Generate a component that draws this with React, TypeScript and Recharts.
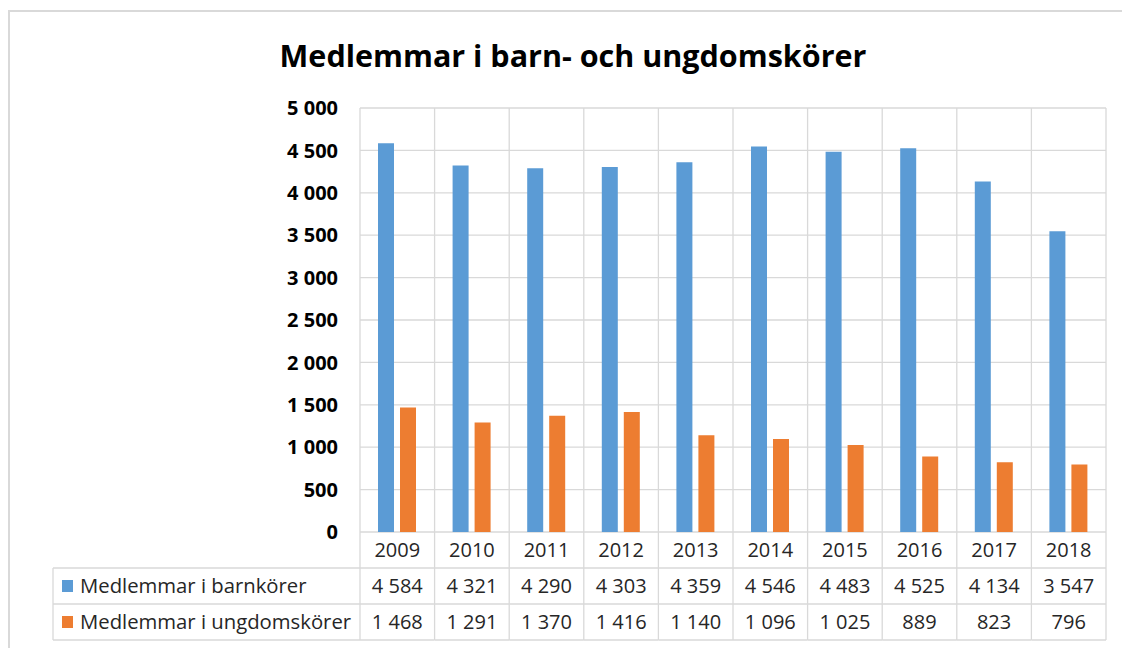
import React from 'react';
import { BarChart, Bar, XAxis, YAxis, CartesianGrid, Customized } from 'recharts';

const years = ['2009', '2010', '2011', '2012', '2013', '2014', '2015', '2016', '2017', '2018'];
const barnkorer = [4584, 4321, 4290, 4303, 4359, 4546, 4483, 4525, 4134, 3547];
const ungdomskorer = [1468, 1291, 1370, 1416, 1140, 1096, 1025, 889, 823, 796];
const seriesNames = ['Medlemmar i barnkörer', 'Medlemmar i ungdomskörer'];
const seriesColors = ['#5b9bd5', '#ed7d31'];
const yTicks = [0, 500, 1000, 1500, 2000, 2500, 3000, 3500, 4000, 4500, 5000];
const title = 'Medlemmar i barn- och ungdomskörer';

const data = years.map((y, i) => ({ year: y, barn: barnkorer[i], ungdom: ungdomskorer[i] }));

const W = 1122;
const H = 648;
const PLOT_LEFT = 360;
const PLOT_RIGHT = 1106;
const PLOT_TOP = 108;
const AXIS_H = 116;
const ROW_H = 36;
const TABLE_LEFT = 53;
const GRID = '#d9d9d9';
const FONT = '"Open Sans", Lato, sans-serif';
const TEXT = '#262626';

const fmt = (v: number) => {
  const s = String(Math.round(v));
  return s.replace(/\B(?=(\d{3})+(?!\d))/g, ' ');
};

const bandWidth = (PLOT_RIGHT - PLOT_LEFT) / years.length;

const TableTick = (props: any) => {
  const { x, y, payload } = props;
  const idx = years.indexOf(payload.value);
  const left = x - bandWidth / 2;
  const right = x + bandWidth / 2;
  const rows = [payload.value, fmt(barnkorer[idx]), fmt(ungdomskorer[idx])];
  return (
    <g>
      <line x1={right} x2={right} y1={PLOT_TOP} y2={y + ROW_H * 3} stroke={GRID} strokeWidth={1.3} />
      {idx === 0 && (
        <line x1={left} x2={left} y1={PLOT_TOP} y2={y + ROW_H * 3} stroke={GRID} strokeWidth={1.3} />
      )}
      {[1, 2, 3].map((r) => (
        <line key={r} x1={left} x2={right} y1={y + ROW_H * r} y2={y + ROW_H * r} stroke={GRID} strokeWidth={1.3} />
      ))}
      {rows.map((t, r) => (
        <text
          key={r}
          x={x}
          y={y + ROW_H * r + ROW_H / 2 + 7}
          textAnchor="middle"
          fontSize={20}
          fontFamily={FONT}
          fill={TEXT}
        >
          {t}
        </text>
      ))}
    </g>
  );
};

const Decor = () => {
  const y0 = H - AXIS_H;
  return (
    <g>
      <rect x={9} y={11} width={W + 10} height={H + 10} fill="none" stroke={GRID} strokeWidth={2} />
      <text x={573} y={67} textAnchor="middle" fontSize={30.5} fontWeight="bold" fontFamily={FONT} fill="#000">
        {title}
      </text>
      <line x1={TABLE_LEFT} x2={TABLE_LEFT} y1={y0 + ROW_H} y2={y0 + ROW_H * 3} stroke={GRID} strokeWidth={1.3} />
      {[1, 2, 3].map((r) => (
        <line key={r} x1={TABLE_LEFT} x2={PLOT_LEFT} y1={y0 + ROW_H * r} y2={y0 + ROW_H * r} stroke={GRID} strokeWidth={1.3} />
      ))}
      {seriesNames.map((n, i) => (
        <g key={n}>
          <rect x={62} y={y0 + ROW_H * (i + 1) + ROW_H / 2 - 6} width={11} height={12} fill={seriesColors[i]} />
          <text
            x={80}
            y={y0 + ROW_H * (i + 1) + ROW_H / 2 + 7}
            fontSize={20.3}
            fontFamily={FONT}
            fill={TEXT}
          >
            {n}
          </text>
        </g>
      ))}
    </g>
  );
};

export default function App() {
  return (
    <div style={{ position: 'absolute', left: 0, top: 0, width: W, height: H, background: '#fff' }}>
      <BarChart
        width={W}
        height={H}
        data={data}
        margin={{ top: PLOT_TOP, right: W - PLOT_RIGHT, bottom: 0, left: 0 }}
        barGap={6}
        barSize={16}
      >
        <CartesianGrid vertical={false} stroke={GRID} strokeWidth={1.3} />
        <YAxis
          width={PLOT_LEFT}
          domain={[0, 5000]}
          ticks={yTicks}
          tickFormatter={fmt}
          axisLine={false}
          tickLine={false}
          tickSize={0}
          tickMargin={22}
          interval={0}
          tick={{ fontSize: 20, fontWeight: 'bold', fill: '#000', fontFamily: FONT }}
        />
        <XAxis
          dataKey="year"
          height={AXIS_H}
          axisLine={false}
          tickLine={false}
          tickSize={0}
          tickMargin={0}
          interval={0}
          tick={<TableTick />}
        />
        <Bar dataKey="barn" name={seriesNames[0]} fill={seriesColors[0]} isAnimationActive={false} />
        <Bar dataKey="ungdom" name={seriesNames[1]} fill={seriesColors[1]} isAnimationActive={false} />
        <Customized component={<Decor />} />
      </BarChart>
    </div>
  );
}
